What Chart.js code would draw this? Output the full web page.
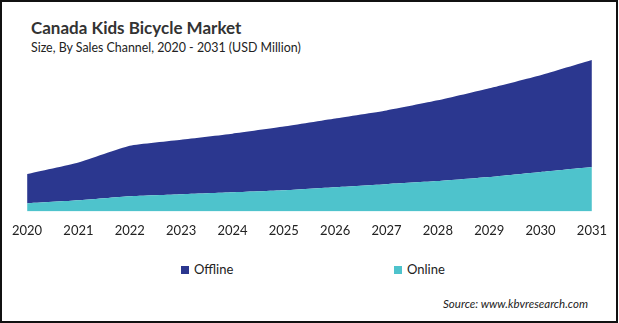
<!DOCTYPE html>
<html>
<head>
<meta charset="utf-8">
<script src="https://cdn.jsdelivr.net/npm/chart.js@4"></script>
<style>
  html, body { margin: 0; padding: 0; background: #fff; }
  #frame {
    position: relative; width: 618px; height: 323px;
    box-sizing: border-box; border: 2px solid #111; overflow: hidden;
    font-family: Lato, "Open Sans", sans-serif; color: #222;
  }
  #title { position: absolute; left: 29px; top: 15px; font-size: 17px; font-weight: bold; color: #333; }
  #subtitle { position: absolute; left: 29px; top: 38px; font-size: 12.4px; color: #222; }
  #chartBox { position: absolute; left: -2px; top: -2px; width: 619px; height: 253px; }
  .legend-item { position: absolute; top: 259px; font-size: 13px; color: #222; }
  .legend-item span.box { display: inline-block; width: 8px; height: 8px; margin-right: 5px; vertical-align: 0px; }
  #source { position: absolute; right: 28px; top: 295px; font-size: 11.5px; font-style: italic; color: #222; }
</style>
</head>
<body>
<div id="frame">
  <div id="title">Canada Kids Bicycle Market</div>
  <div id="subtitle">Size, By Sales Channel, 2020 - 2031 (USD Million)</div>
  <div id="chartBox"><canvas id="chart"></canvas></div>
  <div id="legend"></div>
  <div id="source">Source: www.kbvresearch.com</div>
</div>
<script>
// data (arbitrary units)
const years = ['2020', '2021', '2022', '2023', '2024', '2025', '2026', '2027', '2028', '2029', '2030', '2031'];
const online = [8, 11, 15, 17, 19, 21, 24, 27, 30, 34, 39, 44];
const offline = [29, 37.5, 50, 54, 58, 63, 68, 73, 80, 88, 96, 106];

const offlineColor = '#2b378f';
const onlineColor = '#4ec3cc';

const ctx = document.getElementById('chart');
const chart = new Chart(ctx, {
    type: 'line',
    data: {
        labels: years,
        datasets: [
            { label: 'Online', data: online, backgroundColor: onlineColor, borderWidth: 0, pointRadius: 0, fill: 'origin', tension: 0.15 },
            { label: 'Offline', data: offline, backgroundColor: offlineColor, borderWidth: 0, pointRadius: 0, fill: '-1', tension: 0.15 }
        ]
    },
    options: {
        responsive: true,
        maintainAspectRatio: false,
        animation: false,
        layout: { padding: { top: 60, left: 27, right: 25, bottom: 2 } },
        plugins: { legend: { display: false }, tooltip: { enabled: false } },
        scales: {
            x: {
                offset: false,
                grid: { display: false, drawTicks: false },
                border: { display: false },
                ticks: { padding: 12, color: '#222', font: { family: 'Lato', size: 13 } }
            },
            y: { display: false, stacked: true, min: 0, max: 150 }
        }
    }
});

// legend from the datasets, in picture order
const legendPos = { Offline: 179, Online: 392 };
const legend = document.getElementById('legend');
[chart.data.datasets[1], chart.data.datasets[0]].forEach(ds => {
    const item = document.createElement('div');
    item.className = 'legend-item';
    item.style.left = legendPos[ds.label] + 'px';
    item.innerHTML = `<span class="box" style="background:${ds.backgroundColor}"></span>${ds.label}`;
    legend.appendChild(item);
});
</script>
</body>
</html>
